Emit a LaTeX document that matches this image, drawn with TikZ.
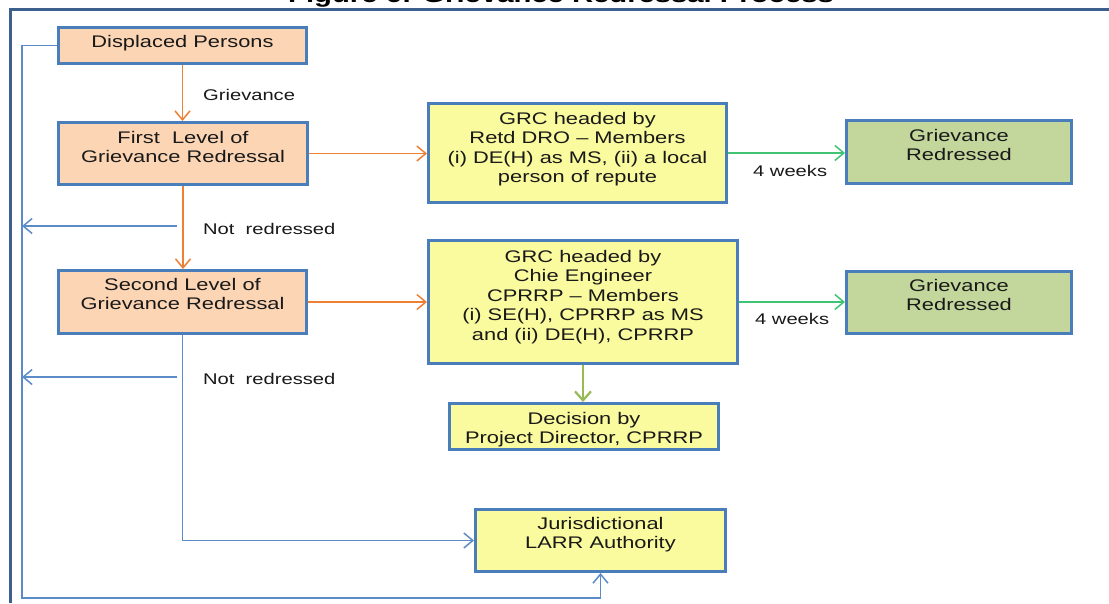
\documentclass[tikz,border=0pt]{standalone}
\usepackage{fontspec}
\setmainfont[FakeStretch=1.3]{Liberation Sans}
\usetikzlibrary{arrows.meta}
\definecolor{boxblue}{RGB}{74,126,187}
\definecolor{lineblue}{RGB}{92,140,200}
\definecolor{framecol}{RGB}{60,95,142}
\definecolor{peach}{RGB}{252,213,180}
\definecolor{paleyellow}{RGB}{250,250,158}
\definecolor{palegreen}{RGB}{195,214,155}
\definecolor{orangeline}{RGB}{238,128,52}
\definecolor{greenline}{RGB}{64,196,116}
\definecolor{oliveline}{RGB}{150,186,84}
\begin{document}
\begin{tikzpicture}[x=1pt,y=-1pt,
  box/.style={draw=boxblue, line width=3pt, rectangle, inner sep=0pt},
  boxtext/.style={font=\fontsize{16.8}{19.5}\selectfont, align=center, inner sep=0pt, anchor=north, text=black!90},
  lbl/.style={font=\fontsize{15.5}{18}\selectfont, inner sep=0pt, anchor=north west, text=black!90},
  tip/.style={-{Straight Barb[length=9pt,width=15pt,line width=1.5pt]}},
  oarrow/.style={draw=orangeline, line width=1.5pt, tip},
  garrow/.style={draw=greenline, line width=1.5pt, tip},
  varrow/.style={draw=oliveline, line width=2.5pt, -{Straight Barb[length=9pt,width=16pt,line width=2.2pt]}},
  barrow/.style={draw=lineblue, line width=1.6pt, tip},
  bline/.style={draw=lineblue, line width=1.6pt}]
\clip (0,0) rectangle (1109,603);
\fill[white] (0,0) rectangle (1109,603);

% title (cut off by the top edge)
\node[font=\bfseries\fontsize{22.5}{27}\selectfont, anchor=base, inner sep=0pt] (title) at (561,2) {Figure 6: Grievance Redressal Process};

% outer frame
\draw[draw=framecol, line width=3pt] (10,603) -- (10,9) -- (1109,9);

% boxes
\node[box, fill=peach, minimum width=248pt, minimum height=36pt] (dp) at (182.5,45.5) {};
\node[box, fill=peach, minimum width=249pt, minimum height=62pt] (fl) at (183,153.5) {};
\node[box, fill=peach, minimum width=248pt, minimum height=63pt] (sl) at (182.5,302) {};
\node[box, fill=paleyellow, minimum width=298pt, minimum height=99pt] (g1) at (577.5,153) {};
\node[box, fill=paleyellow, minimum width=309pt, minimum height=123pt] (g2) at (583,302) {};
\node[box, fill=paleyellow, minimum width=269pt, minimum height=46pt] (dec) at (584,426.5) {};
\node[box, fill=paleyellow, minimum width=250pt, minimum height=62pt] (jur) at (600.5,540.5) {};
\node[box, fill=palegreen, minimum width=225pt, minimum height=63pt] (r1) at (959,152) {};
\node[box, fill=palegreen, minimum width=225pt, minimum height=62pt] (r2) at (959,302.5) {};

% box texts
\node[boxtext] (dpt) at (182.5,35) {Displaced Persons};
\node[boxtext] (flt) at (183,131) {First~ Level of\\Grievance Redressal};
\node[boxtext] (slt) at (182.5,278) {Second Level of\\Grievance Redressal};
\node[boxtext] (g1t) at (577.5,112) {GRC headed by\\Retd DRO – Members\\(i) DE(H) as MS, (ii) a local\\person of repute};
\node[boxtext] (g2t) at (583,250) {GRC headed by\\Chie Engineer\\CPRRP – Members\\(i) SE(H), CPRRP as MS\\and (ii) DE(H), CPRRP};
\node[boxtext] (dect) at (584,412) {Decision by\\Project Director, CPRRP};
\node[boxtext] (jurt) at (600.5,517) {Jurisdictional\\LARR Authority};
\node[boxtext] (r1t) at (959,129) {Grievance\\Redressed};
\node[boxtext] (r2t) at (959,279) {Grievance\\Redressed};

% labels
\node[lbl] (lg) at (203,89) {Grievance};
\node[lbl] (ln1) at (203,223) {Not~ redressed};
\node[lbl] (ln2) at (203,373) {Not~ redressed};
\node[lbl] (lw1) at (753,165) {4 weeks};
\node[lbl] (lw2) at (755,313) {4 weeks};

% helper coordinates
\coordinate (cl) at (22,598);
\coordinate (n1) at (177,226);
\coordinate (n2) at (177,377);

% connectors
\draw[oarrow] (dp.south) -- (dp.south |- fl.north);
\draw[oarrow] (fl.south) -- (fl.south |- sl.north);
\draw[oarrow] (fl.east) -- (fl.east -| g1.west);
\draw[oarrow] (sl.east) -- (sl.east -| g2.west);
\draw[garrow] (g1.east) -- (g1.east -| r1.west);
\draw[garrow] (g2.east) -- (g2.east -| r2.west);
\draw[varrow] (g2.south) -- (g2.south |- dec.north);
\draw[barrow] (n1) -- (n1 -| cl);
\draw[barrow] (n2) -- (n2 -| cl);
\draw[barrow] (sl.south) |- (jur.west);
\draw[barrow] (dp.west) -- (dp.west -| cl) -- (cl) -- (cl -| jur.south) -- (jur.south);
\end{tikzpicture}
\end{document}
